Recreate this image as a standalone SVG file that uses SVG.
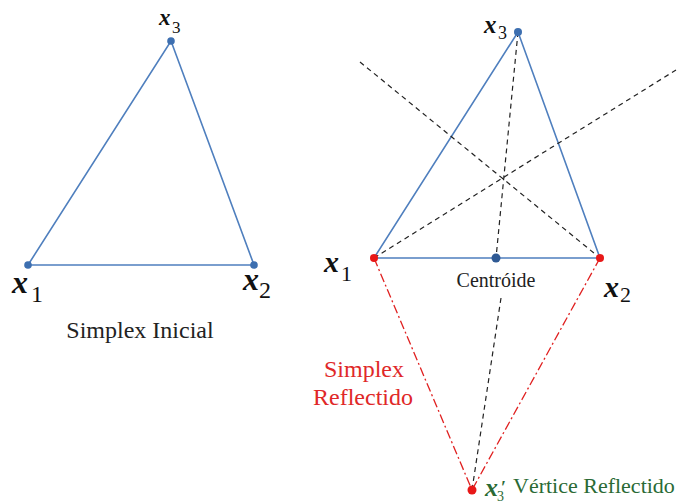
<svg xmlns="http://www.w3.org/2000/svg" width="690" height="504" viewBox="0 0 690 504">
<style>
.edge{stroke:#4f7fbe;stroke-width:1.6;fill:none}
.dash{stroke:#222;stroke-width:1.2;stroke-dasharray:5,4;fill:none}
.red{stroke:#e02020;stroke-width:1.3;stroke-dasharray:9,3,2,3;fill:none}
.vb{fill:#3d6fb0}
.vr{fill:#e81818}
text{font-family:"Liberation Serif","Times New Roman","DejaVu Serif",serif}
.xl{font-style:italic;font-weight:bold;fill:#111}
.sub{font-style:normal;font-weight:normal;fill:#111}
.t{fill:#222}
.rt{fill:#e02828}
.g{fill:#2a6a35}
</style>
<g id="connectors">
<polygon class="edge" points="28,265 254,265 171,41"/>
<polygon class="edge" points="374,258 600,258 518,32"/>
<line class="dash" x1="360" y1="62" x2="600" y2="258"/>
<line class="dash" x1="374" y1="258" x2="676" y2="70"/>
<line class="dash" x1="518" y1="32" x2="496" y2="258"/>
<line class="dash" x1="501" y1="298" x2="472" y2="490"/>
<line class="red" x1="374" y1="258" x2="472" y2="490"/>
<line class="red" x1="600" y1="258" x2="472" y2="490"/>
</g>
<g id="left-x1"><circle class="vb" cx="28" cy="265" r="3.8"/><text class="xl" x="12" y="293" font-size="32">x</text><text class="sub" x="31" y="302" font-size="24">1</text></g>
<g id="left-x2"><circle class="vb" cx="254" cy="265" r="3.8"/><text class="xl" x="243" y="290" font-size="32">x</text><text class="sub" x="259" y="298" font-size="24">2</text></g>
<g id="left-x3"><circle class="vb" cx="171" cy="41" r="3.8"/><text class="xl" x="159" y="25" font-size="23">x</text><text class="sub" x="172" y="33" font-size="17">3</text></g>
<g id="simplex-inicial"><text class="t" x="140" y="338" font-size="24" text-anchor="middle">Simplex Inicial</text></g>
<g id="right-x1"><circle class="vr" cx="374" cy="258" r="4"/><text class="xl" x="324" y="272" font-size="30">x</text><text class="sub" x="341" y="281" font-size="22">1</text></g>
<g id="right-x2"><circle class="vr" cx="600" cy="258" r="4"/><text class="xl" x="604" y="297" font-size="30">x</text><text class="sub" x="620" y="302" font-size="22">2</text></g>
<g id="right-x3"><circle class="vb" cx="518" cy="32" r="4"/><text class="xl" x="484" y="33" font-size="25">x</text><text class="sub" x="498" y="39" font-size="18">3</text></g>
<g id="centroide"><circle cx="496" cy="258" r="4.5" fill="#2f5a94"/><text class="t" x="496" y="287" font-size="20" text-anchor="middle">Centróide</text></g>
<g id="simplex-reflectido"><text class="rt" x="364" y="377" font-size="24" text-anchor="middle">Simplex</text><text class="rt" x="363" y="405" font-size="24" text-anchor="middle">Reflectido</text></g>
<g id="x3-reflected"><circle class="vr" cx="472" cy="490" r="4.5"/><text class="g" x="485" y="496" font-size="26" font-style="italic" font-weight="bold">x</text><text class="g" x="501" y="494" font-size="18" font-weight="bold">′</text><text class="g" x="497" y="501" font-size="14">3</text><text class="g" x="513" y="493" font-size="22">Vértice Reflectido</text></g>
</svg>
